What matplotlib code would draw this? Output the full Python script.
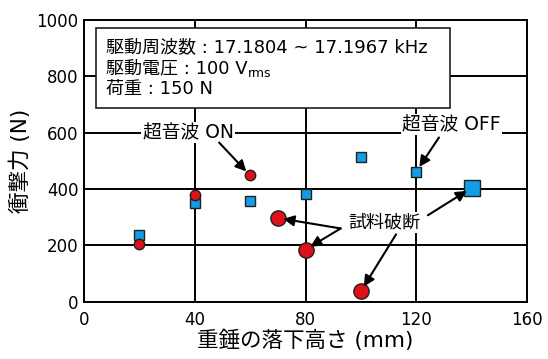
import matplotlib
matplotlib.use("Agg")
import matplotlib.pyplot as plt
from matplotlib.patches import Rectangle

plt.rcParams['font.family'] = ['DejaVu Sans', 'Noto Sans CJK JP']

# data: drop height (mm) vs impact force (N)
on_x = [20, 40, 60]
on_y = [205, 380, 448]
on_break_x = [70, 80, 100]
on_break_y = [297, 185, 37]
off_x = [20, 40, 60, 80, 100, 120]
off_y = [237, 350, 358, 383, 513, 462]
off_break_x = [140]
off_break_y = [404]

xticks = [0, 40, 80, 120, 160]
yticks = [0, 200, 400, 600, 800, 1000]

red = '#e0101b'
blue = '#129de6'
edge = '#202020'

fig = plt.figure(figsize=(5.48, 3.59), dpi=100)
ax = fig.add_axes([0.1533, 0.1596, 0.8084, 0.7847])

ax.set_xlim(0, 160)
ax.set_ylim(0, 1000)
ax.set_xticks(xticks)
ax.set_yticks(yticks)
ax.tick_params(length=0, labelsize=12)
ax.tick_params(axis='x', pad=7)
ax.tick_params(axis='y', pad=4)
ax.grid(True, color='black', linewidth=1.4)
ax.set_axisbelow(True)
for s in ax.spines.values():
    s.set_linewidth(1.4)

ax.set_xlabel('重錘の落下高さ (mm)', fontsize=15.5, labelpad=0)
ax.set_ylabel('衝撃力 (N)', fontsize=15.5, labelpad=4)

ax.plot(off_x, off_y, 's', ms=7, mfc=blue, mec=edge, mew=1, zorder=5)
ax.plot(on_x, on_y, 'o', ms=7.5, mfc=red, mec=edge, mew=1, zorder=5)
ax.plot(on_break_x, on_break_y, 'o', ms=11, mfc=red, mec=edge, mew=1, zorder=5)
ax.plot(off_break_x, off_break_y, 's', ms=11, mfc=blue, mec=edge, mew=1, zorder=5)

# info box
ax.add_patch(Rectangle((0.0276, 0.687), 0.798, 0.286, transform=ax.transAxes,
                       facecolor='white', edgecolor='#202020', linewidth=1.2, zorder=6))
info = ['駆動周波数 : 17.1804 ~ 17.1967 kHz',
        '駆動電圧 : 100 V',
        '荷重 : 150 N']
lines = []
for i, line in enumerate(info):
    t = ax.text(0.049, 0.903 - i * 0.074, line, transform=ax.transAxes, fontsize=13,
                va='center', ha='left', zorder=7)
    lines.append(t)
# subscript "rms" after the voltage
ax.annotate('rms', xy=(1, 0), xycoords=lines[1], xytext=(0.5, -2),
            textcoords='offset points', fontsize=9, ha='left', va='bottom', zorder=7)

arrow = dict(arrowstyle='-|>', color='black', lw=1.5, mutation_scale=16, shrinkA=0, shrinkB=4)
bg = dict(facecolor='white', edgecolor='none', pad=1)

ax.text(37.6, 600, '超音波 ON', fontsize=13.5, ha='center', va='center', bbox=bg, zorder=4)
ax.annotate('', xy=(60, 448), xytext=(48.8, 565), arrowprops=arrow, zorder=6)

ax.text(132.6, 629, '超音波 OFF', fontsize=13.5, ha='center', va='center', bbox=bg, zorder=4)
ax.annotate('', xy=(120, 462), xytext=(128.2, 583), arrowprops=arrow, zorder=6)

ax.text(108.5, 281, '試料破断', fontsize=13, ha='center', va='center', bbox=bg, zorder=4)
ax.annotate('', xy=(70, 297), xytext=(92.7, 260), arrowprops=arrow, zorder=6)
ax.annotate('', xy=(80, 185), xytext=(92.7, 260), arrowprops=arrow, zorder=6)
ax.annotate('', xy=(100, 37), xytext=(112.7, 239), arrowprops=arrow, zorder=6)
ax.annotate('', xy=(140, 404), xytext=(124.2, 307), arrowprops=arrow, zorder=6)

fig.savefig('out.png', dpi=100)
